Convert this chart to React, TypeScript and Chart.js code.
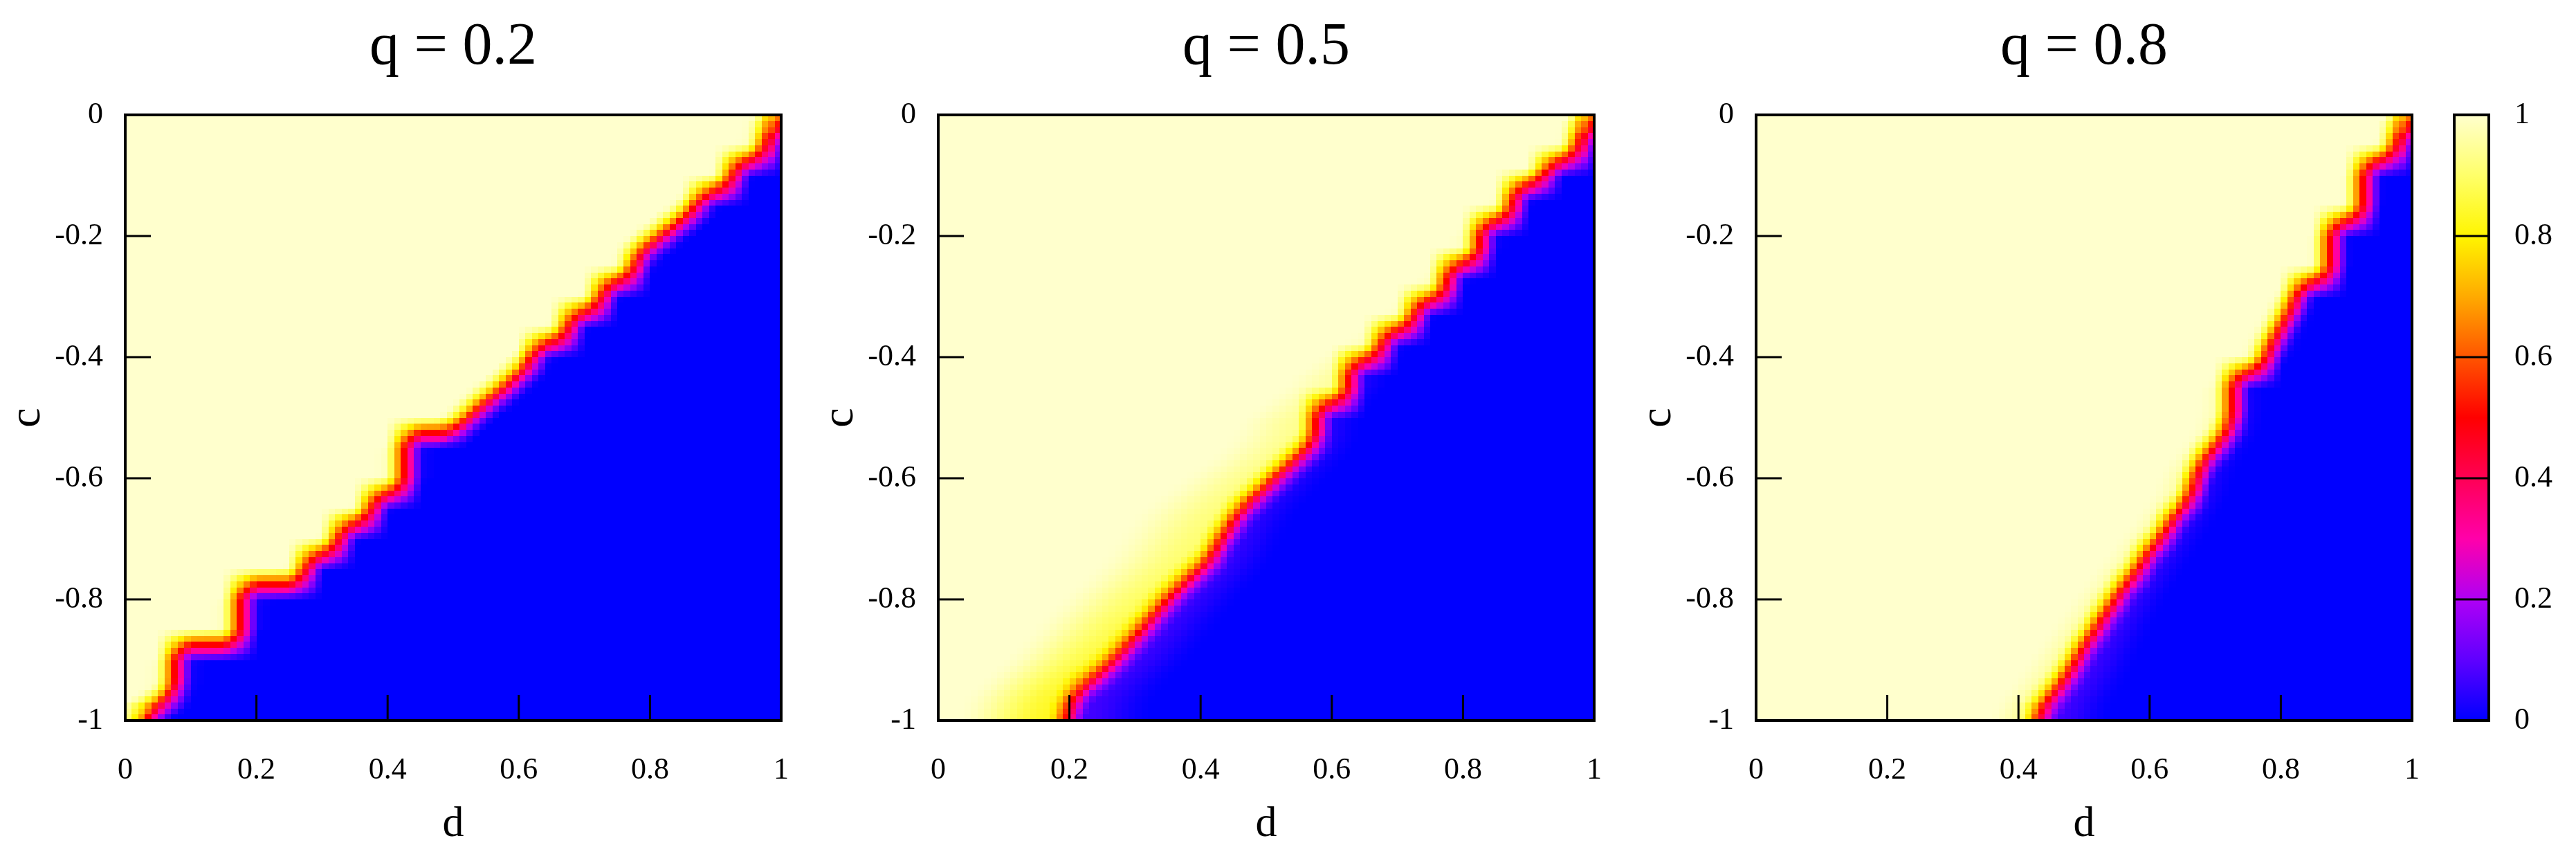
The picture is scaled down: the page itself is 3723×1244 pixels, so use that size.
import React, { useEffect, useMemo, useRef } from "react";
import { Chart, registerables } from "chart.js";

Chart.register(...registerables);

const FONT_FAMILY = "'Liberation Serif', 'DejaVu Serif', serif";

// ---------- text ----------
const panelTitles = ["q = 0.2", "q = 0.5", "q = 0.8"];
const xAxisTitle = "d";
const yAxisTitle = "c";

// ---------- ticks ----------
const xTickValues = [0, 0.2, 0.4, 0.6, 0.8, 1];
const xTickLabels = ["0", "0.2", "0.4", "0.6", "0.8", "1"];
const yTickValues = [-1, -0.8, -0.6, -0.4, -0.2, 0];
const yTickLabels = ["-1", "-0.8", "-0.6", "-0.4", "-0.2", "0"];
const colorbarTickValues = [0, 0.2, 0.4, 0.6, 0.8, 1];
const colorbarTickLabels = ["0", "0.2", "0.4", "0.6", "0.8", "1"];

// ---------- data ----------
// cells per axis of each map (d: 0..1, c: -1..0)
const GRID_CELLS = 100;

// transition line (value 0.5) of each map: d position for increasing c
const boundaryD_q02 = [0.015, 0.075, 0.075, 0.175, 0.175, 0.275, 0.275, 0.325, 0.325, 0.375, 0.375, 0.425, 0.425, 0.495, 0.62, 0.625, 0.675, 0.675, 0.725, 0.725, 0.775, 0.775, 0.875, 0.875, 0.925, 0.925, 0.975, 0.975, 1.0];
const boundaryC_q02 = [-1.0, -0.955, -0.875, -0.875, -0.775, -0.775, -0.725, -0.725, -0.675, -0.675, -0.625, -0.625, -0.525, -0.525, -0.41, -0.375, -0.375, -0.325, -0.325, -0.275, -0.275, -0.235, -0.15, -0.125, -0.125, -0.075, -0.075, -0.035, 0.0];

const boundaryD_q05 = [0.19, 0.196, 0.214, 0.255, 0.304, 0.344, 0.384, 0.415, 0.426, 0.457, 0.496, 0.536, 0.575, 0.575, 0.625, 0.625, 0.675, 0.675, 0.725, 0.725, 0.775, 0.775, 0.825, 0.825, 0.875, 0.875, 0.925, 0.925, 0.975, 0.975, 1.0];
const boundaryC_q05 = [-1.0, -0.985, -0.947, -0.915, -0.856, -0.806, -0.765, -0.734, -0.706, -0.658, -0.616, -0.578, -0.535, -0.475, -0.475, -0.405, -0.405, -0.355, -0.355, -0.305, -0.305, -0.245, -0.245, -0.175, -0.175, -0.115, -0.115, -0.075, -0.075, -0.035, 0.0];

const boundaryD_q08 = [0.42, 0.438, 0.468, 0.49, 0.5, 0.515, 0.525, 0.545, 0.555, 0.575, 0.585, 0.595, 0.615, 0.625, 0.635, 0.655, 0.665, 0.67, 0.685, 0.705, 0.715, 0.725, 0.725, 0.775, 0.775, 0.825, 0.825, 0.875, 0.875, 0.925, 0.925, 0.975, 0.975, 1.0];
const boundaryC_q08 = [-1.0, -0.975, -0.935, -0.895, -0.875, -0.855, -0.835, -0.805, -0.785, -0.765, -0.745, -0.725, -0.705, -0.685, -0.665, -0.645, -0.625, -0.595, -0.565, -0.545, -0.525, -0.505, -0.425, -0.425, -0.4, -0.3, -0.275, -0.275, -0.175, -0.175, -0.075, -0.075, -0.035, 0.0];

// soft fringes beside the transition (depth and reach in d), at given c
const fringeC_q02 = [-1, 0];
const yellowDepth_q02 = [0.03, 0.03];
const yellowReach_q02 = [0.05, 0.05];
const blueDepth_q02 = [0.03, 0.03];
const blueReach_q02 = [0.05, 0.05];

const fringeC_q05 = [-1, -0.9, -0.8, -0.65, -0.5, -0.35, 0];
const yellowDepth_q05 = [0.17, 0.14, 0.11, 0.08, 0.06, 0.03, 0.02];
const yellowReach_q05 = [0.17, 0.17, 0.17, 0.16, 0.12, 0.06, 0.04];
const blueDepth_q05 = [0.07, 0.065, 0.06, 0.05, 0.04, 0.03, 0.02];
const blueReach_q05 = [0.13, 0.12, 0.11, 0.09, 0.07, 0.05, 0.04];

const fringeC_q08 = [-1, -0.8, -0.6, -0.4, -0.2, 0];
const yellowDepth_q08 = [0.06, 0.05, 0.05, 0.03, 0.03, 0.03];
const yellowReach_q08 = [0.08, 0.07, 0.06, 0.05, 0.04, 0.04];
const blueDepth_q08 = [0.07, 0.06, 0.04, 0.03, 0.02, 0.02];
const blueReach_q08 = [0.11, 0.08, 0.06, 0.05, 0.04, 0.04];

// ---------- palette ----------
const paletteStops = [0, 0.1, 0.2, 0.3, 0.4, 0.5, 0.6, 0.7, 0.8, 0.9, 1];
const paletteR = [0, 95, 175, 255, 255, 255, 255, 255, 255, 255, 255];
const paletteG = [0, 0, 0, 0, 0, 0, 85, 170, 245, 255, 255];
const paletteB = [255, 255, 245, 170, 85, 0, 0, 0, 0, 105, 205];

function paletteColor(v: number): string {
  const t = Math.max(0, Math.min(1, v));
  let k = 0;
  while (k < paletteStops.length - 2 && t > paletteStops[k + 1]) k++;
  const f = (t - paletteStops[k]) / (paletteStops[k + 1] - paletteStops[k]);
  const r = Math.round(paletteR[k] + f * (paletteR[k + 1] - paletteR[k]));
  const g = Math.round(paletteG[k] + f * (paletteG[k + 1] - paletteG[k]));
  const b = Math.round(paletteB[k] + f * (paletteB[k + 1] - paletteB[k]));
  return `rgb(${r},${g},${b})`;
}
const LUT: string[] = [];
for (let k = 0; k <= 1000; k++) LUT.push(paletteColor(k / 1000));
const colorOf = (v: number) => LUT[Math.round(Math.max(0, Math.min(1, v)) * 1000)];

// ---------- field construction ----------
function interp(xs: number[], ys: number[], x: number): number {
  if (x <= xs[0]) return ys[0];
  if (x >= xs[xs.length - 1]) return ys[ys.length - 1];
  for (let k = 0; k < xs.length - 1; k++) {
    if (xs[k] <= x && x < xs[k + 1]) {
      const t = (x - xs[k]) / (xs[k + 1] - xs[k]);
      return ys[k] + t * (ys[k + 1] - ys[k]);
    }
  }
  return ys[ys.length - 1];
}
function smoothstep(a: number, b: number, x: number) {
  const t = Math.max(0, Math.min(1, (x - a) / (b - a)));
  return t * t * (3 - 2 * t);
}

function buildField(p: any): Float32Array {
  const n = GRID_CELLS;
  const h = 1 / n;
  const out = new Float32Array(n * n);
  const STEP = 0.0025;
  const C0 = -1.05;
  const fine: number[] = [];
  for (let k = 0; k <= 440; k++) fine.push(interp(p.bc, p.bd, C0 + k * STEP));
  const offs: number[] = [];
  for (let m = 0; m < 10; m++) offs.push(-2.25 * h + m * 0.5 * h);
  for (let j = 0; j < n; j++) {
    const cc = -1 + (j + 0.5) * h;
    // smoothed boundary position for the fringes
    let s = 0, sc = 0;
    for (let k = -12; k <= 12; k++) {
      const c = cc + k * STEP;
      if (c < -1 || c > 0) continue;
      s += fine[Math.round((c - C0) / STEP)];
      sc++;
    }
    const Drow = s / sc;
    const yd = interp(p.fc, p.yd, cc), yr = interp(p.fc, p.yr, cc);
    const bdp = interp(p.fc, p.bdp, cc), br = interp(p.fc, p.br, cc);
    for (let i = 0; i < n; i++) {
      const dc = (i + 0.5) * h;
      let sum = 0, cnt = 0;
      for (let m = 0; m < 10; m++) {
        const c = cc + offs[m];
        if (c < -1 || c > 0) continue;
        const D = fine[Math.round((c - C0) / STEP)];
        for (let q = 0; q < 10; q++) {
          const d = dc + offs[q];
          if (d < 0 || d > 1) continue;
          cnt++;
          if (d < D) sum++;
        }
      }
      const B = sum / cnt;
      const dist = Drow - dc;
      const fy = yd * (1 - smoothstep(0.15 * yr, yr, Math.max(dist, 0)));
      const fb = bdp * (1 - smoothstep(0.2 * br, br, Math.max(-dist, 0)));
      out[j * n + i] = B - fy * Math.max(0, 2 * B - 1) + fb * Math.max(0, 1 - 2 * B);
    }
  }
  return out;
}

const panelsData = [
  { bd: boundaryD_q02, bc: boundaryC_q02, fc: fringeC_q02, yd: yellowDepth_q02, yr: yellowReach_q02, bdp: blueDepth_q02, br: blueReach_q02 },
  { bd: boundaryD_q05, bc: boundaryC_q05, fc: fringeC_q05, yd: yellowDepth_q05, yr: yellowReach_q05, bdp: blueDepth_q05, br: blueReach_q05 },
  { bd: boundaryD_q08, bc: boundaryC_q08, fc: fringeC_q08, yd: yellowDepth_q08, yr: yellowReach_q08, bdp: blueDepth_q08, br: blueReach_q08 },
];

// ---------- layout ----------
const CANVAS_H = 1244;
const PANEL_W = 1186;
const panelLefts = [0, 1175, 2357];
const CB_LEFT = 3500;
const CB_W = 223;

// ---------- plugins ----------
function heatmapPlugin(values: Float32Array) {
  return {
    id: "heatmap",
    beforeDatasetsDraw(chart: any) {
      const { ctx, chartArea, scales } = chart;
      const xs = scales.x, ys = scales.y;
      const n = GRID_CELLS;
      const xe: number[] = [], ye: number[] = [];
      for (let i = 0; i <= n; i++) xe.push(Math.round(xs.getPixelForValue(i / n)));
      for (let j = 0; j <= n; j++) ye.push(Math.round(ys.getPixelForValue(-1 + j / n)));
      ctx.save();
      ctx.beginPath();
      ctx.rect(chartArea.left, chartArea.top, chartArea.width, chartArea.height);
      ctx.clip();
      for (let j = 0; j < n; j++) {
        for (let i = 0; i < n; i++) {
          ctx.fillStyle = colorOf(values[j * n + i]);
          ctx.fillRect(xe[i], ye[j + 1], xe[i + 1] - xe[i], ye[j] - ye[j + 1]);
        }
      }
      ctx.restore();
    },
  };
}

const framePlugin = {
  id: "frame",
  afterDraw(chart: any) {
    const { ctx, chartArea, scales } = chart;
    const { left, top, right, bottom } = chartArea;
    ctx.save();
    ctx.strokeStyle = "#000";
    ctx.lineWidth = 3;
    ctx.beginPath();
    yTickValues.forEach((v) => {
      const py = scales.y.getPixelForValue(v);
      ctx.moveTo(left, py);
      ctx.lineTo(left + 37, py);
    });
    xTickValues.forEach((v) => {
      const px = scales.x.getPixelForValue(v);
      ctx.moveTo(px, bottom);
      ctx.lineTo(px, bottom - 37);
    });
    ctx.stroke();
    ctx.lineWidth = 4;
    ctx.strokeRect(left, top, right - left, bottom - top);
    ctx.restore();
  },
};

const colorbarPlugin = {
  id: "colorbar",
  beforeDatasetsDraw(chart: any) {
    const { ctx, chartArea, scales } = chart;
    const y0 = scales.y.getPixelForValue(0);
    const y1 = scales.y.getPixelForValue(1);
    const g = ctx.createLinearGradient(0, y0, 0, y1);
    paletteStops.forEach((s, k) => g.addColorStop(s, `rgb(${paletteR[k]},${paletteG[k]},${paletteB[k]})`));
    ctx.save();
    ctx.fillStyle = g;
    ctx.fillRect(chartArea.left, y1, chartArea.right - chartArea.left, y0 - y1);
    ctx.restore();
  },
  afterDraw(chart: any) {
    const { ctx, chartArea, scales } = chart;
    const { left, top, right, bottom } = chartArea;
    ctx.save();
    ctx.strokeStyle = "#000";
    ctx.lineWidth = 3;
    ctx.beginPath();
    colorbarTickValues.forEach((v) => {
      const py = scales.y.getPixelForValue(v);
      ctx.moveTo(left, py);
      ctx.lineTo(right, py);
    });
    ctx.stroke();
    ctx.lineWidth = 4;
    ctx.strokeRect(left, top, right - left, bottom - top);
    ctx.restore();
  },
};

// ---------- components ----------
function HeatPanel({ index, values }: { index: number; values: Float32Array }) {
  const ref = useRef<HTMLCanvasElement>(null);
  useEffect(() => {
    const chart = new Chart(ref.current as HTMLCanvasElement, {
      type: "scatter",
      data: { datasets: [] },
      options: {
        responsive: false,
        animation: false,
        events: [],
        layout: { padding: { left: 0, top: 0, right: 20, bottom: 0 } },
        plugins: {
          legend: { display: false },
          tooltip: { enabled: false },
          title: {
            display: true,
            text: panelTitles[index],
            fullSize: false,
            color: "#000",
            font: { family: FONT_FAMILY, size: 86, weight: "normal", lineHeight: 1.2 },
            padding: { top: 17.4, bottom: 45.4 },
          },
        },
        scales: {
          x: {
            type: "linear",
            position: "bottom",
            min: 0,
            max: 1,
            grid: { display: false, drawTicks: false },
            border: { display: false },
            afterBuildTicks: (s: any) => {
              s.ticks = xTickValues.map((v) => ({ value: v }));
            },
            afterFit: (s: any) => {
              s.height = 203;
            },
            ticks: {
              autoSkip: false,
              maxRotation: 0,
              color: "#000",
              padding: 46,
              font: { family: FONT_FAMILY, size: 44 },
              callback: (_v: any, i: number) => xTickLabels[i],
            },
            title: {
              display: true,
              text: xAxisTitle,
              color: "#000",
              font: { family: FONT_FAMILY, size: 62 },
              padding: { top: 0, bottom: 15 },
            },
          },
          y: {
            type: "linear",
            position: "left",
            min: -1,
            max: 0,
            grid: { display: false, drawTicks: false },
            border: { display: false },
            afterBuildTicks: (s: any) => {
              s.ticks = yTickValues.map((v) => ({ value: v }));
            },
            afterFit: (s: any) => {
              s.width = 181;
            },
            ticks: {
              autoSkip: false,
              color: "#000",
              padding: 32,
              font: { family: FONT_FAMILY, size: 44 },
              callback: (_v: any, i: number) => yTickLabels[i],
            },
            title: {
              display: true,
              text: yAxisTitle,
              color: "#000",
              font: { family: FONT_FAMILY, size: 64 },
              padding: { top: 2, bottom: 0 },
            },
          },
        },
      } as any,
      plugins: [heatmapPlugin(values), framePlugin],
    } as any);
    return () => chart.destroy();
  }, [index, values]);
  return (
    <canvas
      ref={ref}
      width={PANEL_W}
      height={CANVAS_H}
      style={{ position: "absolute", left: panelLefts[index], top: 0, width: PANEL_W, height: CANVAS_H }}
    />
  );
}

function ColorBar() {
  const ref = useRef<HTMLCanvasElement>(null);
  useEffect(() => {
    const chart = new Chart(ref.current as HTMLCanvasElement, {
      type: "scatter",
      data: { datasets: [] },
      options: {
        responsive: false,
        animation: false,
        events: [],
        layout: { padding: { left: 47, top: 166, right: 0, bottom: 203 } },
        plugins: { legend: { display: false }, tooltip: { enabled: false } },
        scales: {
          x: { type: "linear", display: false, min: 0, max: 1 },
          y: {
            type: "linear",
            position: "right",
            min: 0,
            max: 1,
            grid: { display: false, drawTicks: false },
            border: { display: false },
            afterBuildTicks: (s: any) => {
              s.ticks = colorbarTickValues.map((v) => ({ value: v }));
            },
            afterFit: (s: any) => {
              s.width = 126;
            },
            ticks: {
              autoSkip: false,
              color: "#000",
              padding: 37,
              font: { family: FONT_FAMILY, size: 44 },
              callback: (_v: any, i: number) => colorbarTickLabels[i],
            },
          },
        },
      } as any,
      plugins: [colorbarPlugin],
    } as any);
    return () => chart.destroy();
  }, []);
  return (
    <canvas
      ref={ref}
      width={CB_W}
      height={CANVAS_H}
      style={{ position: "absolute", left: CB_LEFT, top: 0, width: CB_W, height: CANVAS_H }}
    />
  );
}

export default function App() {
  const fields = useMemo(() => panelsData.map((p) => buildField(p)), []);
  return (
    <div style={{ position: "absolute", left: 0, top: 0, width: 3723, height: 1244, overflow: "hidden", background: "#fff" }}>
      {fields.map((f, k) => (
        <HeatPanel key={k} index={k} values={f} />
      ))}
      <ColorBar />
    </div>
  );
}
